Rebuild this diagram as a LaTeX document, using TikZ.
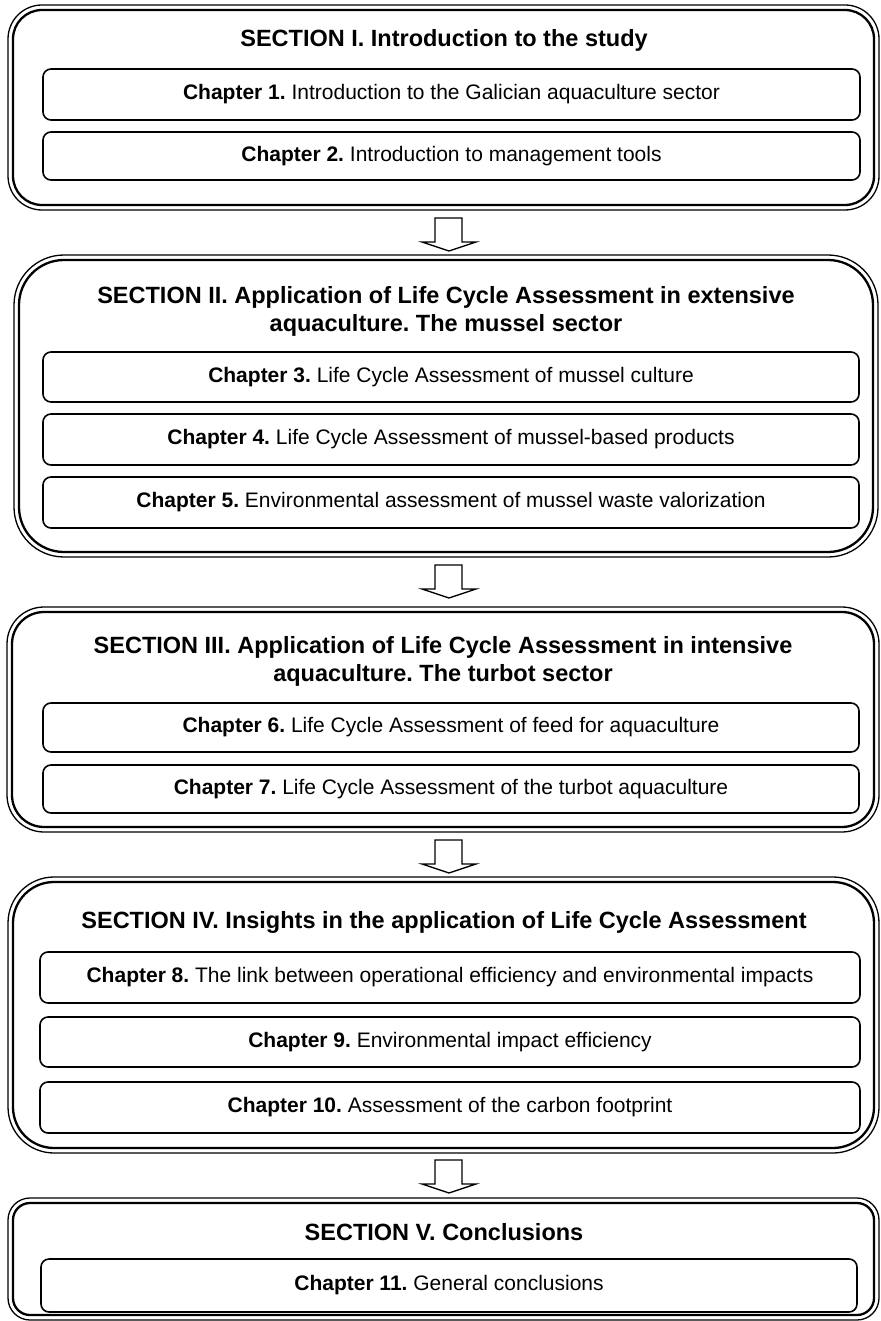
\documentclass[tikz,border=0pt]{standalone}
\usepackage{fontspec}
\setmainfont{Liberation Sans}
\frenchspacing
\newcommand{\titlefont}{\fontsize{23.5}{28}\selectfont\bfseries}
\newcommand{\chapfont}{\fontsize{21}{25}\selectfont}
% section frame: thin outer line, heavier inner line
% args: x1, y1, x2, y2, outer radius, inner radius
\newcommand{\secframe}[6]{%
  \draw[outerline, rounded corners=#5pt] (#1,#2) rectangle (#3,#4);
  \draw[innerline, rounded corners=#6pt] (#1+5,#2+5) rectangle (#3-5,#4-5);}
% hollow block arrow pointing down, top edge at y = #1
\newcommand{\flowarrow}[1]{%
  \draw[blockarrow] (435,#1) -- (462,#1) -- (462,#1+24) -- (476,#1+24)
    -- (449,#1+33) -- (422,#1+24) -- (435,#1+24) -- cycle;}
\begin{document}
\begin{tikzpicture}[x=1pt,y=-1pt,
  outerline/.style={line width=1.3pt},
  innerline/.style={line width=2.3pt},
  chapbox/.style={draw, line width=1.6pt, rounded corners=8pt, inner sep=0pt, font=\chapfont},
  sectitle/.style={font=\titlefont, align=center, inner sep=0pt},
  blockarrow/.style={draw, line width=1.3pt, line join=miter}]
\useasboundingbox[fill=white] (0,0) rectangle (880,1321);

% Section I
\secframe{8}{5}{879}{210}{34}{29}
\node[sectitle] (t1) at (444,40) {SECTION I. Introduction to the study};
\node[chapbox, minimum width=817pt, minimum height=51pt] (c1) at (451.5,94.5)
  {{\bfseries Chapter 1.} Introduction to the Galician aquaculture sector};
\node[chapbox, minimum width=817pt, minimum height=48pt] (c2) at (451.5,156)
  {{\bfseries Chapter 2.} Introduction to management tools};
\flowarrow{218}

% Section II
\secframe{14}{255}{878}{557}{50}{45}
\node[sectitle] (t2) at (446,311) {SECTION II. Application of Life Cycle Assessment in extensive\\aquaculture. The mussel sector};
\node[chapbox, minimum width=816pt, minimum height=50pt] (c3) at (451,377)
  {{\bfseries Chapter 3.} Life Cycle Assessment of mussel culture};
\node[chapbox, minimum width=816pt, minimum height=51pt] (c4) at (451,439.5)
  {{\bfseries Chapter 4.} Life Cycle Assessment of mussel-based products};
\node[chapbox, minimum width=816pt, minimum height=51pt] (c5) at (451,502.5)
  {{\bfseries Chapter 5.} Environmental assessment of mussel waste valorization};
\flowarrow{565}

% Section III
\secframe{7}{607}{879}{832}{37}{32}
\node[sectitle] (t3) at (443,661) {SECTION III. Application of Life Cycle Assessment in intensive\\aquaculture. The turbot sector};
\node[chapbox, minimum width=816pt, minimum height=49pt] (c6) at (451,727.5)
  {{\bfseries Chapter 6.} Life Cycle Assessment of feed for aquaculture};
\node[chapbox, minimum width=816pt, minimum height=48pt] (c7) at (451,789)
  {{\bfseries Chapter 7.} Life Cycle Assessment of the turbot aquaculture};
\flowarrow{840}

% Section IV
\secframe{8}{877}{879}{1153}{46}{41}
\node[sectitle] (t4) at (444,922) {SECTION IV. Insights in the application of Life Cycle Assessment};
\node[chapbox, minimum width=820pt, minimum height=51pt] (c8) at (450,977.5)
  {{\bfseries Chapter 8.} The link between operational efficiency and environmental impacts};
\node[chapbox, minimum width=820pt, minimum height=50pt] (c9) at (450,1042)
  {{\bfseries Chapter 9.} Environmental impact efficiency};
\node[chapbox, minimum width=820pt, minimum height=51pt] (c10) at (450,1107.5)
  {{\bfseries Chapter 10.} Assessment of the carbon footprint};
\flowarrow{1160}

% Section V
\secframe{8}{1198}{879}{1320}{22}{17}
\node[sectitle] (t5) at (444,1232) {SECTION V. Conclusions};
\node[chapbox, minimum width=816pt, minimum height=53pt] (c11) at (449,1285.5)
  {{\bfseries Chapter 11.} General conclusions};
\end{tikzpicture}
\end{document}
